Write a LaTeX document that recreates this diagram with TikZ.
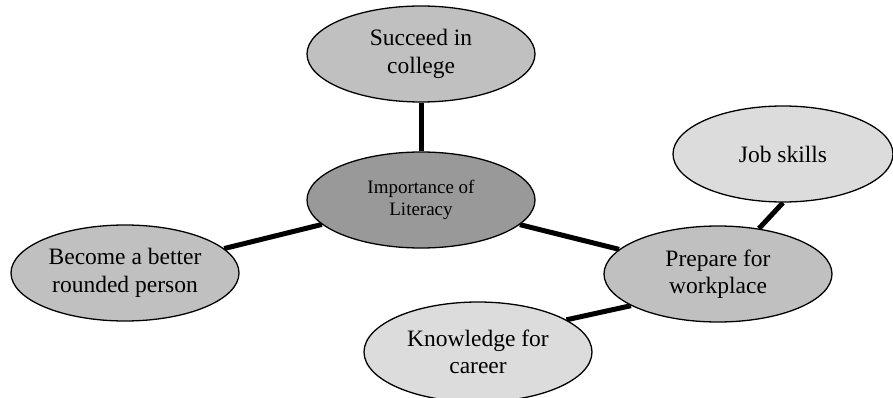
\documentclass[tikz,border=0pt]{standalone}
\usepackage{fontspec}
\setmainfont{Liberation Serif}
\usetikzlibrary{shapes.geometric,backgrounds}

\definecolor{darkbubble}{gray}{0.6}
\definecolor{midbubble}{gray}{0.753}
\definecolor{lightbubble}{RGB}{221,220,221}

\begin{document}
\begin{tikzpicture}[x=1pt,y=-1pt]

        \useasboundingbox (0,0) rectangle (893,398);

        \begin{scope}[every node/.style={ellipse,draw,line width=1.3pt,
            minimum width=228pt,minimum height=96pt,inner sep=0pt,
            align=center,font=\fontsize{23.5}{27.5}\selectfont}]
          \node[fill=darkbubble,font=\fontsize{19}{22}\selectfont]
                    (lit)  at (421,200) {Importance of\\Literacy};
          \node[fill=midbubble]   (coll) at (421,54)  {Succeed in\\college};
          \node[fill=midbubble]   (bec)  at (125,273) {Become a better\\rounded person};
          \node[fill=midbubble]   (prep) at (718,274) {Prepare for\\workplace};
          \node[fill=lightbubble,minimum width=220pt] (job)  at (783,154) {Job skills};
          \node[fill=lightbubble,minimum height=100pt] (know) at (478,352) {Knowledge for\\career};
        \end{scope}

        \begin{scope}[on background layer, every path/.style={line width=5pt}]
          \draw (lit) -- (coll);
          \draw (lit) -- (bec);
          \draw (lit) -- (prep);
          \draw (prep.48)  -- (job.south);
          \draw (prep.200) -- (know.20);
        \end{scope}

      \end{tikzpicture}
\end{document}
